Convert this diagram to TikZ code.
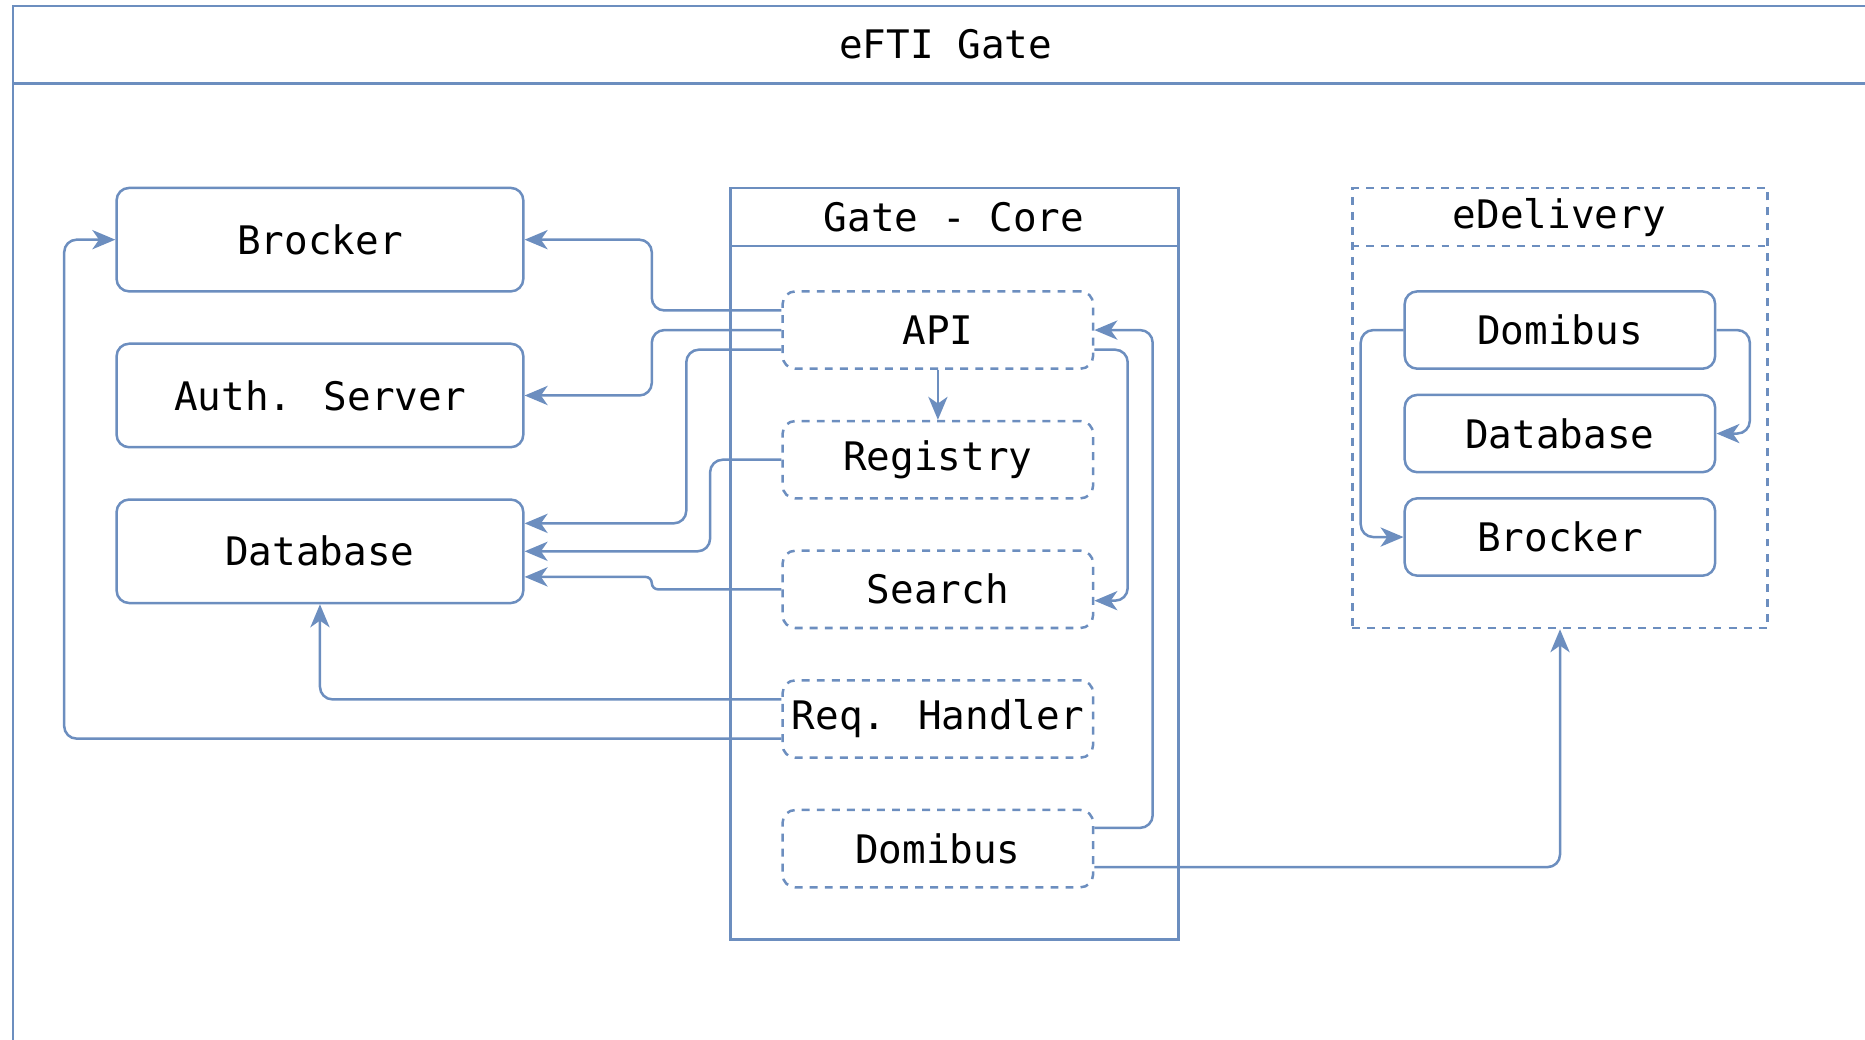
\documentclass[tikz,border=0pt]{standalone}
\usepackage{fontspec}
\usepackage{xcolor}
\usetikzlibrary{arrows.meta}
\newfontfamily\gatefont{DejaVu Sans Mono}
\definecolor{gateblue}{HTML}{6C8EBF}

\begin{document}
\begin{tikzpicture}[scale=0.1]
				\tikzstyle{every node}+=[inner sep=0pt, font=\gatefont\fontsize{9.4}{11}\selectfont]
				\tikzstyle{line}=[gateblue, line width=0.6pt]
				\tikzstyle{dashline}=[line, dash pattern=on 1.9pt off 1.7pt]
				\tikzstyle{box}=[draw=gateblue, line width=0.6pt, rounded corners=3pt, minimum width=3.42cm, minimum height=0.87cm]
				\tikzstyle{part}=[box, dash pattern=on 1.9pt off 1.7pt, minimum width=2.61cm, minimum height=0.65cm]
				\tikzstyle{ebox}=[box, minimum width=2.61cm, minimum height=0.65cm]
				\tikzstyle{group}=[draw=gateblue, line width=0.6pt]
				\tikzstyle{link}=[line, rounded corners=3pt, -{Stealth[length=5.5pt, width=4.6pt, inset=1.6pt]}]
				\clip (0,0) rectangle (156.8,-87.4);
				\draw [line] (1.1,-90) -- (1.1,-0.5) -- (160,-0.5);
				\draw [line] (1.1,-7) -- (160,-7);
				\draw (79.5,-3.7) node (title) {eFTI Gate};
				\draw (26.9,-20.15) node [box] (brocker) {Brocker};
				\draw (26.9,-33.25) node [box] (auth) {Auth. Server};
				\draw (26.9,-46.35) node [box] (database) {Database};
				\draw (80.25,-47.4) node [group, minimum width=3.77cm, minimum height=6.32cm] (core) {};
				\draw [line] ([yshift=-50mm]core.north west) -- ([yshift=-50mm]core.north east);
				\draw (80.2,-18.3) node (coretitle) {Gate - Core};
				\draw (78.85,-27.75) node [part] (api) {API};
				\draw (78.85,-38.65) node [part] (registry) {Registry};
				\draw (78.85,-49.55) node [part] (search) {Search};
				\draw (78.85,-60.45) node [part] (handler) {Req. Handler};
				\draw (78.85,-71.35) node [part] (domibus) {Domibus};
				\draw (131.15,-34.3) node [group, dash pattern=on 1.9pt off 1.7pt, minimum width=3.49cm, minimum height=3.7cm] (edelivery) {};
				\draw [dashline] ([yshift=-50mm]edelivery.north west) -- ([yshift=-50mm]edelivery.north east);
				\draw (131.1,-18.3) node (edeltitle) {eDelivery};
				\draw (131.15,-27.75) node [ebox] (edomibus) {Domibus};
				\draw (131.15,-36.45) node [ebox] (edatabase) {Database};
				\draw (131.15,-45.15) node [ebox] (ebrocker) {Brocker};
				\draw [link] ([yshift=16.5mm]api.west) -- ++(-10.9,0) |- (brocker.east);
				\draw [link] (api.west) -- ++(-10.9,0) |- (auth.east);
				\draw [link] ([yshift=-16.5mm]api.west) -- ++(-8,0) |- ([yshift=23.5mm]database.east);
				\draw [link] (registry.west) -- ++(-6,0) |- (database.east);
				\draw [link, rounded corners=1.5pt] (search.west) -- ++(-10.9,0) |- ([yshift=-21.5mm]database.east);
				\draw [link] (api.south) -- (registry.north);
				\draw [link] ([yshift=-16.5mm]api.east) -- ++(2.8,0) |- ([yshift=-9.5mm]search.east);
				\draw [link] ([yshift=17.5mm]domibus.east) -- ++(4.9,0) |- (api.east);
				\draw [link] ([yshift=16.5mm]handler.west) -| (database.south);
				\draw [link] ([yshift=-16.5mm]handler.west) -| ([xshift=-43mm]brocker.west) -- (brocker.west);
				\draw [link] ([yshift=-15.5mm]domibus.east) -| (edelivery.south);
				\draw [link] (edomibus.west) -- ++(-3.6,0) |- (ebrocker.west);
				\draw [link] (edomibus.east) -- ++(2.8,0) |- (edatabase.east);
				\end{tikzpicture}
\end{document}
